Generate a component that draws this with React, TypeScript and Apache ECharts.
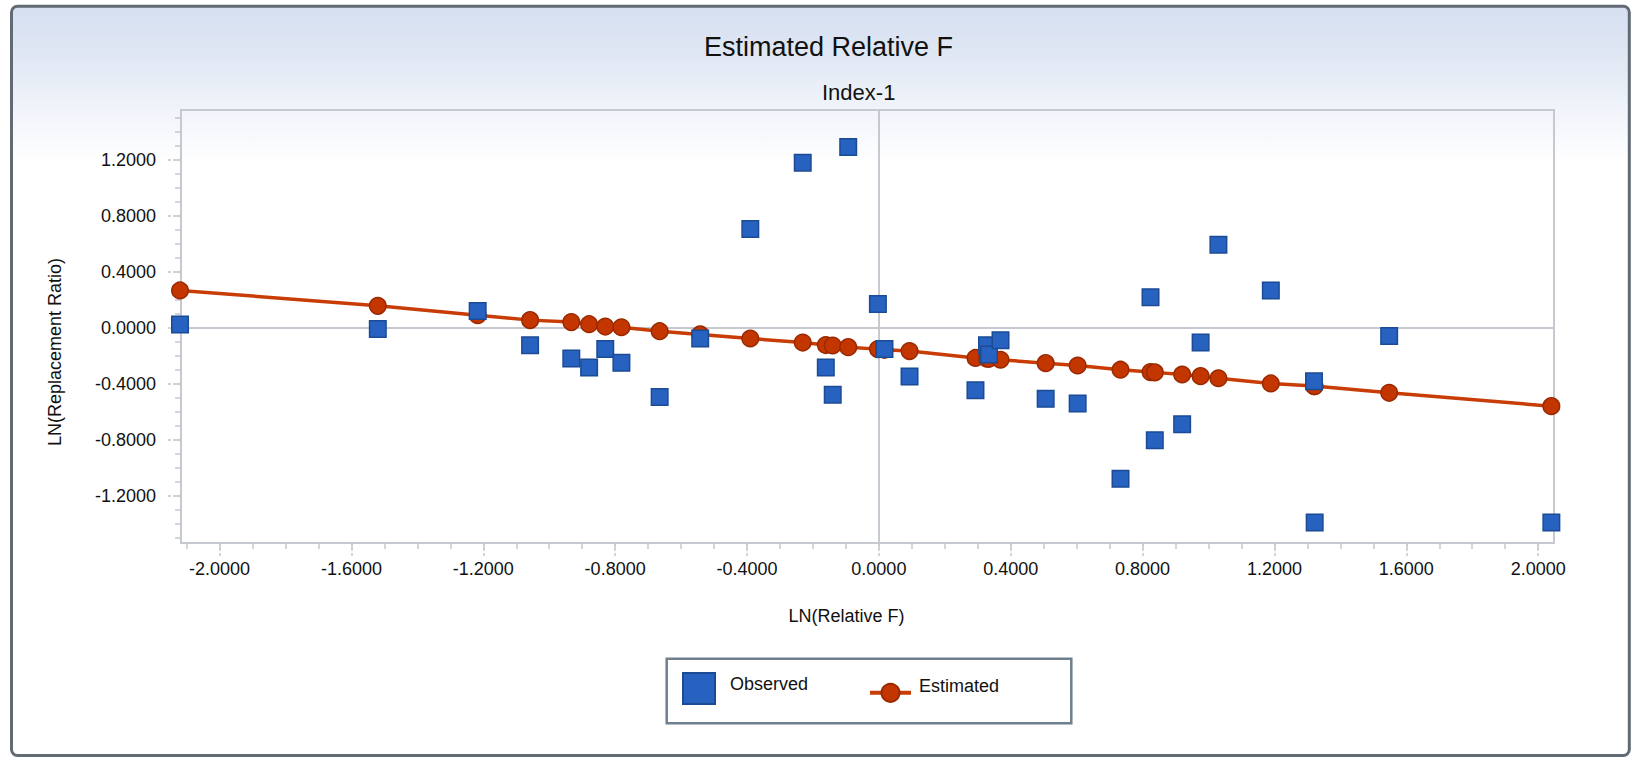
import React, { useEffect, useRef } from "react";
import * as echarts from "echarts";

// ---- data ----
const relF = [
  -2.12, -1.52, -1.217, -1.058, -0.933, -0.879, -0.83, -0.781, -0.665, -0.542,
  -0.39, -0.231, -0.161, -0.14, -0.093, -0.003, 0.017, 0.093, 0.293, 0.328,
  0.334, 0.369, 0.506, 0.603, 0.733, 0.824, 0.837, 0.92, 0.976, 1.03,
  1.189, 1.32, 1.322, 1.548, 2.04,
];
const observed = [
  0.024, -0.009, 0.121, -0.124, -0.219, -0.283, -0.152, -0.25, -0.493, -0.076,
  0.705, 1.179, -0.283, -0.478, 1.291, 0.171, -0.152, -0.347, -0.445, -0.124,
  -0.19, -0.088, -0.507, -0.54, -1.078, 0.219, -0.802, -0.688, -0.105, 0.593,
  0.267, -0.381, -1.39, -0.059, -1.39,
];
const estimated = [
  0.267, 0.157, 0.09, 0.055, 0.041, 0.026, 0.009, 0.004, -0.024, -0.047,
  -0.076, -0.105, -0.123, -0.126, -0.138, -0.152, -0.157, -0.166, -0.215, -0.22,
  -0.221, -0.228, -0.252, -0.269, -0.299, -0.316, -0.318, -0.333, -0.345, -0.36,
  -0.397, -0.416, -0.417, -0.464, -0.559,
];

const xMajorTicks = [-2.0, -1.6, -1.2, -0.8, -0.4, 0, 0.4, 0.8, 1.2, 1.6, 2.0];
const xMinorTicks = [
  -2.1, -2.0, -1.9, -1.8, -1.7, -1.6, -1.5, -1.4, -1.3, -1.2, -1.1, -1.0, -0.9,
  -0.8, -0.7, -0.6, -0.5, -0.4, -0.3, -0.2, -0.1, 0, 0.1, 0.2, 0.3, 0.4, 0.5,
  0.6, 0.7, 0.8, 0.9, 1.0, 1.1, 1.2, 1.3, 1.4, 1.5, 1.6, 1.7, 1.8, 1.9, 2.0,
];
const yMajorTicks = [-1.2, -0.8, -0.4, 0, 0.4, 0.8, 1.2];
const yMinorTicks = [
  -1.5, -1.4, -1.3, -1.2, -1.1, -1.0, -0.9, -0.8, -0.7, -0.6, -0.5, -0.4, -0.3,
  -0.2, -0.1, 0, 0.1, 0.2, 0.3, 0.4, 0.5, 0.6, 0.7, 0.8, 0.9, 1.0, 1.1, 1.2,
  1.3, 1.4, 1.5,
];

const X_MIN = -2.117;
const X_MAX = 2.048;
const Y_MIN = -1.536;
const Y_MAX = 1.555;

const FONT = "'Liberation Sans', Arial, Helvetica, sans-serif";
const TICK_COLOR = "#c3c7cd";
const AXIS_COLOR = "#c6cad0";

export default function App() {
  const ref = useRef<HTMLDivElement>(null);

  useEffect(() => {
    document.body.style.margin = "0";
    if (!ref.current) return;
    const chart = echarts.init(ref.current, undefined, { renderer: "svg" });

    const estData = relF.map((x, i) => [x, estimated[i]]);
    const obsData = relF.map((x, i) => [x, observed[i]]);

    const baseX = {
      type: "value" as const,
      gridIndex: 0,
      min: X_MIN,
      max: X_MAX,
      splitLine: { show: false },
    };
    const baseY = {
      type: "value" as const,
      gridIndex: 0,
      min: Y_MIN,
      max: Y_MAX,
      splitLine: { show: false },
    };

    chart.setOption({
      animation: false,
      textStyle: { fontFamily: FONT },
      title: [
        {
          text: "Estimated Relative F",
          left: 704,
          top: 33,
          padding: 0,
          textStyle: { fontSize: 27, fontWeight: "normal", color: "#111", fontFamily: FONT },
        },
        {
          text: "Index-1",
          left: 822,
          top: 81,
          padding: 0,
          textStyle: { fontSize: 22, fontWeight: "normal", color: "#111", fontFamily: FONT },
        },
      ],
      legend: [
        {
          data: ["Observed"],
          left: 682,
          top: 672,
          padding: 0,
          itemWidth: 32,
          itemHeight: 31,
          selectedMode: false,
          itemStyle: { opacity: 1 },
          formatter: "{t|{name}}",
          textStyle: {
            fontSize: 18,
            color: "#111",
            fontFamily: FONT,
            padding: [0, 0, 0, 10],
            rich: { t: { fontSize: 18, color: "#111", fontFamily: FONT, padding: [0, 0, 9, 0] } },
          },
        },
        {
          data: ["Estimated"],
          left: 868,
          top: 676.8,
          padding: 0,
          itemWidth: 41,
          itemHeight: 22.5,
          selectedMode: false,
          lineStyle: { width: 4 },
          formatter: "{t|{name}}",
          textStyle: {
            fontSize: 18,
            color: "#111",
            fontFamily: FONT,
            padding: [0, 0, 0, 3],
            rich: { t: { fontSize: 18, color: "#111", fontFamily: FONT, padding: [0, 0, 14, 0] } },
          },
        },
      ],
      grid: {
        left: 181,
        top: 110,
        width: 1373,
        height: 433,
        show: true,
        borderColor: AXIS_COLOR,
        borderWidth: 2,
        backgroundColor: "transparent",
      },
      xAxis: [
        {
          ...baseX,
          position: "bottom",
          axisLine: { show: true, onZero: true, lineStyle: { color: AXIS_COLOR, width: 2 } },
          axisTick: { show: false },
          axisLabel: { show: false },
        },
        {
          ...baseX,
          position: "bottom",
          offset: 0,
          axisLine: { show: false, onZero: false },
          axisTick: {
            show: true,
            customValues: xMinorTicks,
            length: 6,
            lineStyle: { color: TICK_COLOR, width: 1.5 },
          },
          axisLabel: { show: false },
        },
        {
          ...baseX,
          position: "bottom",
          offset: 0,
          axisLine: { show: false, onZero: false },
          axisTick: {
            show: true,
            customValues: xMajorTicks,
            length: 13,
            lineStyle: { color: TICK_COLOR, width: 1.5, type: [3, 2] },
          },
          axisLabel: {
            show: true,
            customValues: xMajorTicks,
            formatter: (v: number) => v.toFixed(4),
            fontSize: 18,
            color: "#111",
            fontFamily: FONT,
            margin: 17,
          },
        },
      ],
      yAxis: [
        {
          ...baseY,
          position: "left",
          axisLine: { show: true, onZero: true, lineStyle: { color: AXIS_COLOR, width: 2 } },
          axisTick: { show: false },
          axisLabel: { show: false },
        },
        {
          ...baseY,
          position: "left",
          offset: 0,
          axisLine: { show: false, onZero: false },
          axisTick: {
            show: true,
            customValues: yMinorTicks,
            length: 6,
            lineStyle: { color: TICK_COLOR, width: 1.5 },
          },
          axisLabel: { show: false },
        },
        {
          ...baseY,
          position: "left",
          offset: 0,
          axisLine: { show: false, onZero: false },
          axisTick: {
            show: true,
            customValues: yMajorTicks,
            length: 14,
            lineStyle: { color: TICK_COLOR, width: 1.5, type: [3, 2] },
          },
          axisLabel: {
            show: true,
            customValues: yMajorTicks,
            formatter: (v: number) => v.toFixed(4),
            fontSize: 18,
            color: "#111",
            fontFamily: FONT,
            margin: 25,
          },
        },
      ],
      series: [
        {
          name: "Estimated",
          type: "line",
          xAxisIndex: 0,
          yAxisIndex: 0,
          data: estData,
          clip: false,
          symbol: "circle",
          symbolSize: 16.5,
          showAllSymbol: true,
          lineStyle: { color: "#c83c06", width: 3.5 },
          itemStyle: { color: "#c43600", borderColor: "#9a2900", borderWidth: 1.5, opacity: 1 },
          z: 3,
        },
        {
          name: "Observed",
          type: "scatter",
          xAxisIndex: 0,
          yAxisIndex: 0,
          data: obsData,
          clip: false,
          symbol: "rect",
          symbolSize: 16.5,
          itemStyle: { color: "#2762c1", borderColor: "#1c4b95", borderWidth: 1.5, opacity: 1 },
          z: 4,
        },
      ],
      graphic: [
        {
          type: "rect",
          z: -10,
          silent: true,
          shape: { x: 11.5, y: 6.2, width: 1617.8, height: 749.3, r: 6 },
          style: {
            fill: new echarts.graphic.LinearGradient(0, 0, 0, 1, [
              { offset: 0, color: "#d5dff0" },
              { offset: 0.07, color: "#e1e8f4" },
              { offset: 0.14, color: "#f1f4fa" },
              { offset: 0.21, color: "#ffffff" },
              { offset: 1, color: "#ffffff" },
            ]),
            stroke: "#626a73",
            lineWidth: 3,
          },
        },
        {
          type: "rect",
          z: 1,
          silent: true,
          shape: { x: 666.7, y: 658.7, width: 404.6, height: 64.6 },
          style: { fill: "#ffffff", stroke: "#6f7f8d", lineWidth: 2.5 },
        },
        {
          type: "text",
          z: 5,
          silent: true,
          x: 55,
          y: 352,
          rotation: Math.PI / 2,
          style: {
            text: "LN(Replacement Ratio)",
            fontSize: 18,
            fontFamily: FONT,
            fill: "#111",
            textAlign: "center",
            textVerticalAlign: "middle",
          },
        },
        {
          type: "text",
          z: 5,
          silent: true,
          x: 846.5,
          y: 615.5,
          style: {
            text: "LN(Relative F)",
            fontSize: 18,
            fontFamily: FONT,
            fill: "#111",
            textAlign: "center",
            textVerticalAlign: "middle",
          },
        },
      ],
    });

    return () => {
      chart.dispose();
    };
  }, []);

  return <div ref={ref} style={{ width: 1633, height: 758 }} />;
}
